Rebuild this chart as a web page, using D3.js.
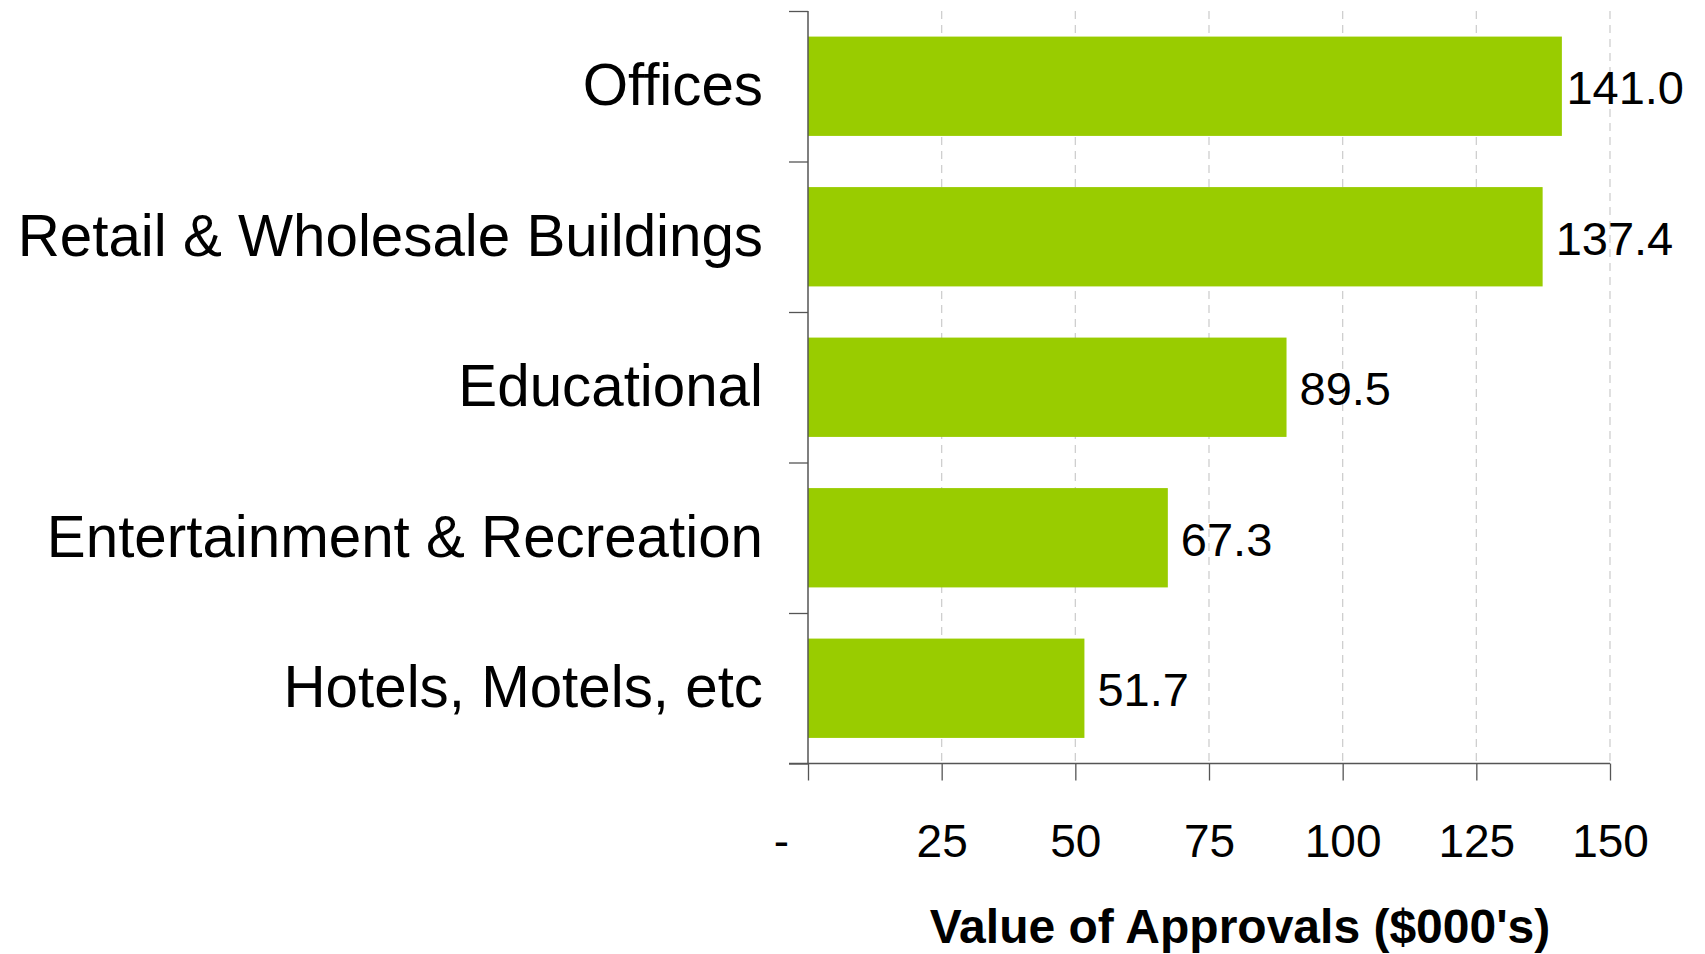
<!DOCTYPE html>
<html>
<head>
<meta charset="utf-8">
<script src="https://cdn.jsdelivr.net/npm/d3@7"></script>
<style>
  html, body { margin: 0; padding: 0; background: #fff; }
  svg { display: block; font-family: "Liberation Sans", Arial, sans-serif; }
</style>
</head>
<body>
<svg id="chart" width="1705" height="954"></svg>
<script>
// chart data
const categories = ["Offices", "Retail & Wholesale Buildings", "Educational", "Entertainment & Recreation", "Hotels, Motels, etc"];
const values = [141.0, 137.4, 89.5, 67.3, 51.7];
const xTicks = [0, 25, 50, 75, 100, 125, 150];
const xTitle = "Value of Approvals ($000's)";

const svg = d3.select("#chart");

const plotLeft = 808, plotRight = 1610, plotTop = 11, plotBottom = 763.5;

const x = d3.scaleLinear().domain([0, 150]).range([plotLeft, plotRight]);
const y = d3.scaleBand().domain(categories).range([plotTop, plotBottom]).padding(0);
// boundaries of the category bands, used for the left axis ticks
const yEdges = d3.scaleLinear().domain([0, categories.length]).range([plotTop, plotBottom]);

// dashed gridlines
svg.append("g")
    .selectAll("line")
    .data(xTicks.filter(d => d > 0))
    .enter()
    .append("line")
    .attr("x1", d => x(d))
    .attr("x2", d => x(d))
    .attr("y1", plotTop)
    .attr("y2", plotBottom)
    .attr("stroke", "#cfcfcf")
    .attr("stroke-width", 1.3)
    .attr("stroke-dasharray", "8,6");

// bars
const rows = categories.map((c, i) => ({ name: c, value: values[i] }));

svg.append("g")
    .selectAll("rect")
    .data(rows)
    .enter()
    .append("rect")
    .attr("x", x(0))
    .attr("y", d => y(d.name) + y.bandwidth() * 0.17)
    .attr("width", d => x(d.value) - x(0))
    .attr("height", y.bandwidth() * 0.66)
    .attr("fill", "#99cc00");

// bottom axis
const xAxis = svg.append("g")
    .attr("transform", `translate(0,${plotBottom})`)
    .call(d3.axisBottom(x).tickValues(xTicks).tickSize(17).tickSizeOuter(0).tickFormat(d => d === 0 ? "-" : d));
xAxis.select(".domain").remove();
xAxis.selectAll(".tick line").attr("stroke", "#555").attr("stroke-width", 1.3);
xAxis.selectAll(".tick text")
    .attr("y", 0)
    .attr("dy", null)
    .attr("transform", "translate(0,93)")
    .attr("font-size", 46)
    .attr("fill", "#000")
    .attr("font-family", "Liberation Sans, Arial, sans-serif");
xAxis.selectAll(".tick").filter(d => d === 0).select("text").attr("x", -27);

// left axis (ticks at band boundaries)
const yAxis = svg.append("g")
    .attr("transform", `translate(${plotLeft},0)`)
    .call(d3.axisLeft(yEdges).tickValues(d3.range(categories.length + 1)).tickSize(19).tickSizeOuter(0).tickFormat(""));
yAxis.select(".domain").remove();
yAxis.selectAll(".tick line").attr("stroke", "#555").attr("stroke-width", 1.3);

// axis lines
svg.append("line")
    .attr("x1", plotLeft).attr("x2", plotLeft)
    .attr("y1", plotTop).attr("y2", plotBottom)
    .attr("stroke", "#555").attr("stroke-width", 1.5);
svg.append("line")
    .attr("x1", plotLeft - 19).attr("x2", plotRight)
    .attr("y1", plotBottom).attr("y2", plotBottom)
    .attr("stroke", "#555").attr("stroke-width", 1.5);

// category labels
svg.append("g")
    .selectAll("text")
    .data(rows)
    .enter()
    .append("text")
    .attr("x", 763)
    .attr("y", d => y(d.name) + y.bandwidth() / 2 + 19)
    .attr("text-anchor", "end")
    .attr("font-size", 58.3)
    .attr("fill", "#000")
    .text(d => d.name);

// value labels, kept inside the chart on the right
const maxRight = 1684;
svg.append("g")
    .selectAll("text")
    .data(rows)
    .enter()
    .append("text")
    .attr("y", d => y(d.name) + y.bandwidth() / 2 + 18)
    .attr("font-size", 47)
    .attr("fill", "#000")
    .text(d => d.value.toFixed(1))
    .each(function(d) {
        const w = this.getComputedTextLength();
        this.setAttribute("x", Math.min(x(d.value) + 13, maxRight - w));
    });

// axis title
svg.append("text")
    .attr("x", 1240)
    .attr("y", 943)
    .attr("text-anchor", "middle")
    .attr("font-size", 48)
    .attr("font-weight", "bold")
    .attr("fill", "#000")
    .text(xTitle);
</script>
</body>
</html>
